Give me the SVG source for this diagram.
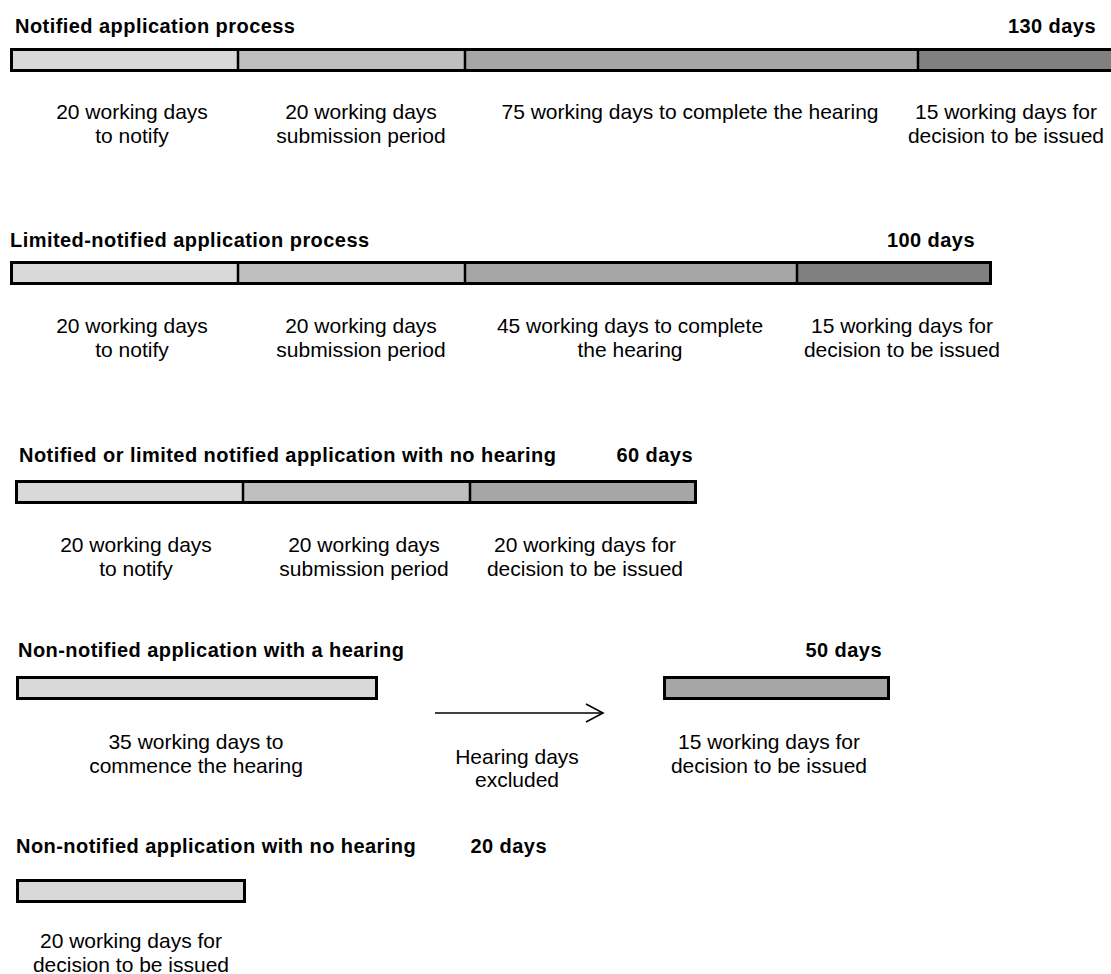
<svg xmlns="http://www.w3.org/2000/svg" width="1111" height="974" viewBox="0 0 1111 974">
<defs>
<style>
.t{font-family:"Liberation Sans",Arial,sans-serif;font-weight:bold;font-size:20px;letter-spacing:0.45px;fill:#000}
.l{font-family:"Liberation Sans",Arial,sans-serif;font-size:21px;fill:#000;text-anchor:middle}
.c1{fill:#d9d9d9}.c2{fill:#bfbfbf}.c3{fill:#a6a6a6}.c4{fill:#808080}
.o{fill:none;stroke:#000;stroke-width:3}
.d{stroke:#000;stroke-width:2.5}
</style>
<marker id="ah" markerWidth="20" markerHeight="20" refX="18" refY="10" orient="auto" markerUnits="userSpaceOnUse">
<path d="M1,1 L18,10 L1,19" fill="none" stroke="#000" stroke-width="1.6"/>
</marker>
</defs>
<rect width="1111" height="974" fill="#fff"/>

<g id="s1">
<text class="t" x="15" y="33">Notified application process</text>
<text class="t" x="1096" y="33" text-anchor="end">130 days</text>
<g id="s1-bar">
<rect class="c1" x="10" y="48" width="228" height="24"/>
<rect class="c2" x="238" y="48" width="227" height="24"/>
<rect class="c3" x="465" y="48" width="453" height="24"/>
<rect class="c4" x="918" y="48" width="195" height="24"/>
<line class="d" x1="238" y1="48" x2="238" y2="72"/>
<line class="d" x1="465" y1="48" x2="465" y2="72"/>
<line class="d" x1="918" y1="48" x2="918" y2="72"/>
<rect class="o" x="11.5" y="49.5" width="1110" height="21"/>
</g>
<text class="l" x="132" y="119">20 working days<tspan x="132" dy="24">to notify</tspan></text>
<text class="l" x="361" y="119">20 working days<tspan x="361" dy="24">submission period</tspan></text>
<text class="l" x="690" y="119">75 working days to complete the hearing</text>
<text class="l" x="1006" y="119">15 working days for<tspan x="1006" dy="24">decision to be issued</tspan></text>
</g>

<g id="s2">
<text class="t" x="10" y="247">Limited-notified application process</text>
<text class="t" x="975" y="247" text-anchor="end">100 days</text>
<g id="s2-bar">
<rect class="c1" x="10" y="261" width="228" height="24"/>
<rect class="c2" x="238" y="261" width="227" height="24"/>
<rect class="c3" x="465" y="261" width="332" height="24"/>
<rect class="c4" x="797" y="261" width="195" height="24"/>
<line class="d" x1="238" y1="261" x2="238" y2="285"/>
<line class="d" x1="465" y1="261" x2="465" y2="285"/>
<line class="d" x1="797" y1="261" x2="797" y2="285"/>
<rect class="o" x="11.5" y="262.5" width="979" height="21"/>
</g>
<text class="l" x="132" y="333">20 working days<tspan x="132" dy="24">to notify</tspan></text>
<text class="l" x="361" y="333">20 working days<tspan x="361" dy="24">submission period</tspan></text>
<text class="l" x="630" y="333">45 working days to complete<tspan x="630" dy="24">the hearing</tspan></text>
<text class="l" x="902" y="333">15 working days for<tspan x="902" dy="24">decision to be issued</tspan></text>
</g>

<g id="s3">
<text class="t" x="19" y="462">Notified or limited notified application with no hearing</text>
<text class="t" x="693" y="462" text-anchor="end">60 days</text>
<g id="s3-bar">
<rect class="c1" x="15" y="480" width="228" height="24"/>
<rect class="c2" x="243" y="480" width="227" height="24"/>
<rect class="c3" x="470" y="480" width="227" height="24"/>
<line class="d" x1="243" y1="480" x2="243" y2="504"/>
<line class="d" x1="470" y1="480" x2="470" y2="504"/>
<rect class="o" x="16.5" y="481.5" width="679" height="21"/>
</g>
<text class="l" x="136" y="552">20 working days<tspan x="136" dy="24">to notify</tspan></text>
<text class="l" x="364" y="552">20 working days<tspan x="364" dy="24">submission period</tspan></text>
<text class="l" x="585" y="552">20 working days for<tspan x="585" dy="24">decision to be issued</tspan></text>
</g>

<g id="s4">
<text class="t" x="18" y="657">Non-notified application with a hearing</text>
<text class="t" x="882" y="657" text-anchor="end">50 days</text>
<g id="s4-bar1">
<rect class="c1" x="16" y="676" width="362" height="24"/>
<rect class="o" x="17.5" y="677.5" width="359" height="21"/>
</g>
<g id="s4-bar2">
<rect class="c3" x="663" y="676" width="227" height="24"/>
<rect class="o" x="664.5" y="677.5" width="224" height="21"/>
</g>
<text class="l" x="196" y="749">35 working days to<tspan x="196" dy="24">commence the hearing</tspan></text>
<text class="l" x="517" y="764">Hearing days<tspan x="517" dy="23">excluded</tspan></text>
<text class="l" x="769" y="749">15 working days for<tspan x="769" dy="24">decision to be issued</tspan></text>
</g>

<g id="connectors">
<line x1="435" y1="713" x2="603" y2="713" stroke="#000" stroke-width="1.6" marker-end="url(#ah)"/>
</g>

<g id="s5">
<text class="t" x="16" y="853">Non-notified application with no hearing</text>
<text class="t" x="547" y="853" text-anchor="end">20 days</text>
<g id="s5-bar">
<rect class="c1" x="16" y="879" width="230" height="24"/>
<rect class="o" x="17.5" y="880.5" width="227" height="21"/>
</g>
<text class="l" x="131" y="948">20 working days for<tspan x="131" dy="24">decision to be issued</tspan></text>
</g>
</svg>
